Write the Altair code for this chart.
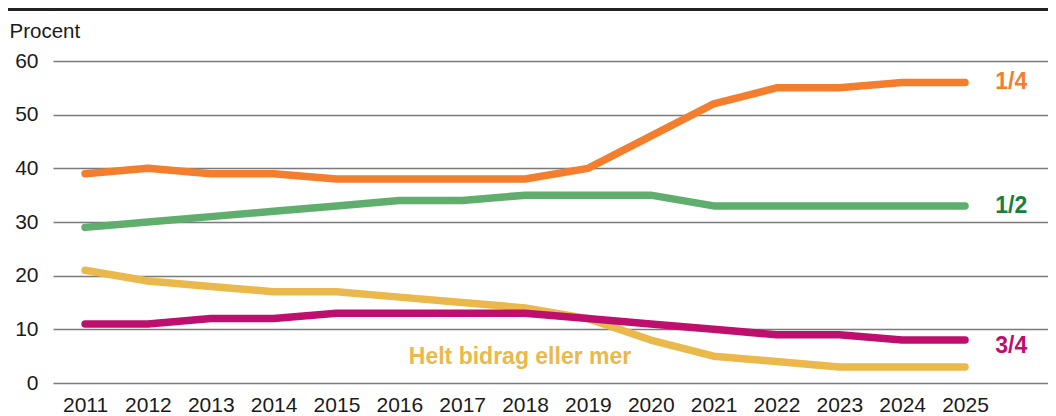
import altair as alt
import pandas as pd

years = list(range(2011, 2026))
series_names = ["Helt bidrag eller mer", "3/4", "1/2", "1/4"]
s_quarter = [39, 40, 39, 39, 38, 38, 38, 38, 40, 46, 52, 55, 55, 56, 56]
s_half = [29, 30, 31, 32, 33, 34, 34, 35, 35, 35, 33, 33, 33, 33, 33]
s_full = [21, 19, 18, 17, 17, 16, 15, 14, 12, 8, 5, 4, 3, 3, 3]
s_three_q = [11, 11, 12, 12, 13, 13, 13, 13, 12, 11, 10, 9, 9, 8, 8]
line_colors = ["#EAB84B", "#BE0F6E", "#5FAE6E", "#F27E2E"]
label_colors = ["#EAB84B", "#BE0F6E", "#17803D", "#F27E2E"]

rows = []
for name, vals in zip(series_names, [s_full, s_three_q, s_half, s_quarter]):
    for y, v in zip(years, vals):
        rows.append({"year": y, "value": v, "series": name, "order": series_names.index(name)})
df = pd.DataFrame(rows)

FONT = "Liberation Sans"
xscale = alt.Scale(domain=[2010.49, 2026.32], nice=False, zero=False)
yscale = alt.Scale(domain=[0, 60], nice=False)

lines = alt.Chart(df).mark_line(strokeWidth=7.5, strokeCap="round", strokeJoin="round").encode(
    x=alt.X("year:Q", scale=xscale,
            axis=alt.Axis(values=years, format="d", title=None, grid=False, domain=False,
                          ticks=False, labelFontSize=21, labelFont=FONT, labelColor="#1a1a1a",
                          labelPadding=11, labelFlush=False, labelOverlap=False)),
    y=alt.Y("value:Q", scale=yscale,
            axis=alt.Axis(values=[0, 10, 20, 30, 40, 50, 60], title="Procent", titleAngle=0,
                          titleAlign="left", titleBaseline="alphabetic", titleX=-44, titleY=-24,
                          titleFont=FONT, titleFontSize=20.5, titleFontWeight="normal", titleColor="#1a1a1a",
                          domain=False, ticks=False, labelFontSize=21, labelFont=FONT,
                          labelColor="#1a1a1a", labelPadding=15, grid=True, gridColor="#7a7a7a",
                          gridWidth=1.3)),
    color=alt.Color("series:N", scale=alt.Scale(domain=series_names, range=line_colors), legend=None),
    detail="series:N",
    order="order:Q",
)

lab_df = pd.DataFrame({
    "text": ["1/4", "1/2", "3/4", "Helt bidrag eller mer"],
    "year": [2025.48, 2025.48, 2025.48, 2017.92],
    "value": [s_quarter[-1], s_half[-1], s_three_q[-1] - 1.1, 4.8],
    "series": ["1/4", "1/2", "3/4", "Helt bidrag eller mer"],
})
labels = alt.Chart(lab_df).mark_text(font=FONT, fontSize=23, fontWeight="bold", align="left",
                                     baseline="middle").encode(
    x=alt.X("year:Q", scale=xscale),
    y=alt.Y("value:Q", scale=yscale),
    text="text:N",
    color=alt.Color("series:N", scale=alt.Scale(domain=series_names, range=label_colors), legend=None),
)
helt = labels.transform_filter(alt.datum.text == "Helt bidrag eller mer").mark_text(
    font=FONT, fontSize=23, fontWeight="bold", align="center", baseline="middle")
ends = labels.transform_filter(alt.datum.text != "Helt bidrag eller mer")

topbar = alt.Chart(pd.DataFrame({"a": [0]})).mark_rule(color="#222222", strokeWidth=5).encode(
    x=alt.value(-45), x2=alt.value(995), y=alt.value(-52.5))

chart = alt.layer(topbar, lines, ends, helt).resolve_scale(color="independent").properties(
    width=995, height=322,
    autosize=alt.AutoSizeParams(type="none"),
    padding={"left": 45, "top": 53, "right": 0, "bottom": 33},
).configure_view(stroke=None)

chart.save("out.html", embed_options={"renderer": "svg", "actions": False})
